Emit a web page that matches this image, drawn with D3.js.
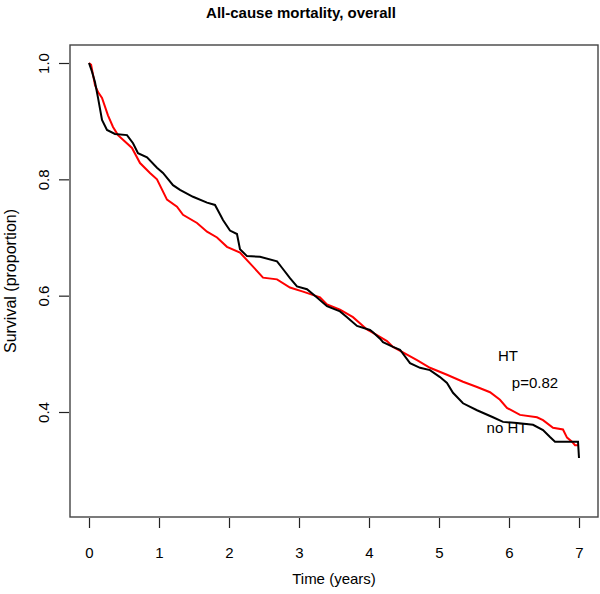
<!DOCTYPE html>
<html><head><meta charset="utf-8">
<script src="https://cdn.jsdelivr.net/npm/d3@7"></script>
<style>body{margin:0;background:#fff}text{font-family:"Liberation Sans",Arial,sans-serif}</style>
</head><body><svg id="c" width="600" height="594"></svg>
<script>
const xTicks = [0,1,2,3,4,5,6,7];
const yTicks = [0.4,0.6,0.8,1.0];
const yTickLabels = ["0.4","0.6","0.8","1.0"];
// no HT (black)
const noHT_t = [0,0.043,0.086,0.129,0.186,0.257,0.371,0.543,0.629,0.70,0.829,0.971,1.057,1.20,1.30,1.486,1.686,1.80,1.871,1.914,2.014,2.114,2.157,2.257,2.443,2.686,2.757,2.871,2.971,3.114,3.257,3.40,3.586,3.686,3.829,4.014,4.057,4.157,4.20,4.343,4.443,4.586,4.729,4.871,5.014,5.114,5.20,5.343,5.543,5.771,5.914,6.114,6.343,6.486,6.586,6.657,6.986,7.0];
const noHT_s = [1.0,0.985,0.967,0.94,0.902,0.885,0.878,0.876,0.862,0.845,0.838,0.82,0.811,0.79,0.782,0.77,0.76,0.756,0.74,0.73,0.712,0.706,0.68,0.668,0.667,0.659,0.648,0.63,0.616,0.611,0.597,0.582,0.573,0.563,0.548,0.541,0.537,0.526,0.52,0.512,0.507,0.484,0.476,0.472,0.46,0.45,0.433,0.415,0.403,0.391,0.383,0.381,0.378,0.369,0.357,0.349,0.349,0.321];
// HT (red)
const HT_t = [0,0.03,0.086,0.129,0.186,0.271,0.343,0.414,0.486,0.614,0.729,0.871,0.971,1.114,1.257,1.343,1.543,1.686,1.829,1.971,2.157,2.343,2.486,2.686,2.871,3.057,3.30,3.40,3.586,3.771,3.971,4.114,4.257,4.343,4.686,4.871,5.114,5.343,5.543,5.729,5.871,5.971,6.157,6.40,6.486,6.629,6.771,6.829,6.90,6.943,7.0];
const HT_s = [1.0,0.997,0.962,0.95,0.94,0.91,0.89,0.876,0.868,0.854,0.828,0.811,0.80,0.765,0.753,0.739,0.725,0.71,0.70,0.684,0.674,0.65,0.631,0.628,0.614,0.607,0.597,0.585,0.576,0.563,0.542,0.532,0.522,0.512,0.489,0.476,0.464,0.452,0.443,0.434,0.421,0.407,0.395,0.391,0.386,0.373,0.37,0.356,0.349,0.343,0.343];

const svg = d3.select("#c");
const x = d3.scaleLinear().domain([0,7]).range([89,579]);
const y = d3.scaleLinear().domain([0.4,1.0]).range([412,63]);
const box = {x0:70,x1:598,y0:45,y1:517};

svg.append("rect").attr("x",box.x0).attr("y",box.y0).attr("width",box.x1-box.x0).attr("height",box.y1-box.y0)
  .attr("fill","none").attr("stroke","#444").attr("stroke-width",1.4);

const xa = svg.append("g").attr("transform",`translate(0,${box.y1+1})`)
  .call(d3.axisBottom(x).tickValues(xTicks).tickSize(10).tickPadding(19).tickFormat(d3.format("d")));
xa.select(".domain").remove();
xa.selectAll("line").attr("stroke","#222").attr("stroke-width",1.2);
xa.selectAll("text").attr("font-size",15).attr("fill","#000");

const ya = svg.append("g").attr("transform",`translate(${box.x0-1},0)`)
  .call(d3.axisLeft(y).tickValues(yTicks).tickSize(10).tickFormat((d,i)=>yTickLabels[i]));
ya.select(".domain").remove();
ya.selectAll("line").attr("stroke","#222").attr("stroke-width",1.2);
ya.selectAll("text").attr("font-size",15).attr("fill","#000")
  .attr("text-anchor","middle").attr("dy",0).attr("x",0)
  .attr("transform","translate(-20,0) rotate(-90)");

const line = d3.line().x(d=>x(d[0])).y(d=>y(d[1]));
svg.append("path").datum(HT_t.map((t,i)=>[t,HT_s[i]])).attr("d",line)
  .attr("fill","none").attr("stroke","#ff0000").attr("stroke-width",2);
svg.append("path").datum(noHT_t.map((t,i)=>[t,noHT_s[i]])).attr("d",line)
  .attr("fill","none").attr("stroke","#000").attr("stroke-width",2);

svg.append("text").attr("x",301).attr("y",18).attr("text-anchor","middle")
  .attr("font-size",15).attr("font-weight","bold").text("All-cause mortality, overall");
svg.append("text").attr("x",334).attr("y",584).attr("text-anchor","middle")
  .attr("font-size",15).text("Time (years)");
svg.append("text").attr("transform","translate(16,281) rotate(-90)").attr("text-anchor","middle")
  .attr("font-size",16).text("Survival (proportion)");
svg.append("text").attr("x",508).attr("y",361).attr("text-anchor","middle").attr("font-size",15).text("HT");
svg.append("text").attr("x",535).attr("y",388).attr("text-anchor","middle").attr("font-size",15).text("p=0.82");
svg.append("text").attr("x",507).attr("y",433).attr("text-anchor","middle").attr("font-size",15).text("no HT");
</script></body></html>
